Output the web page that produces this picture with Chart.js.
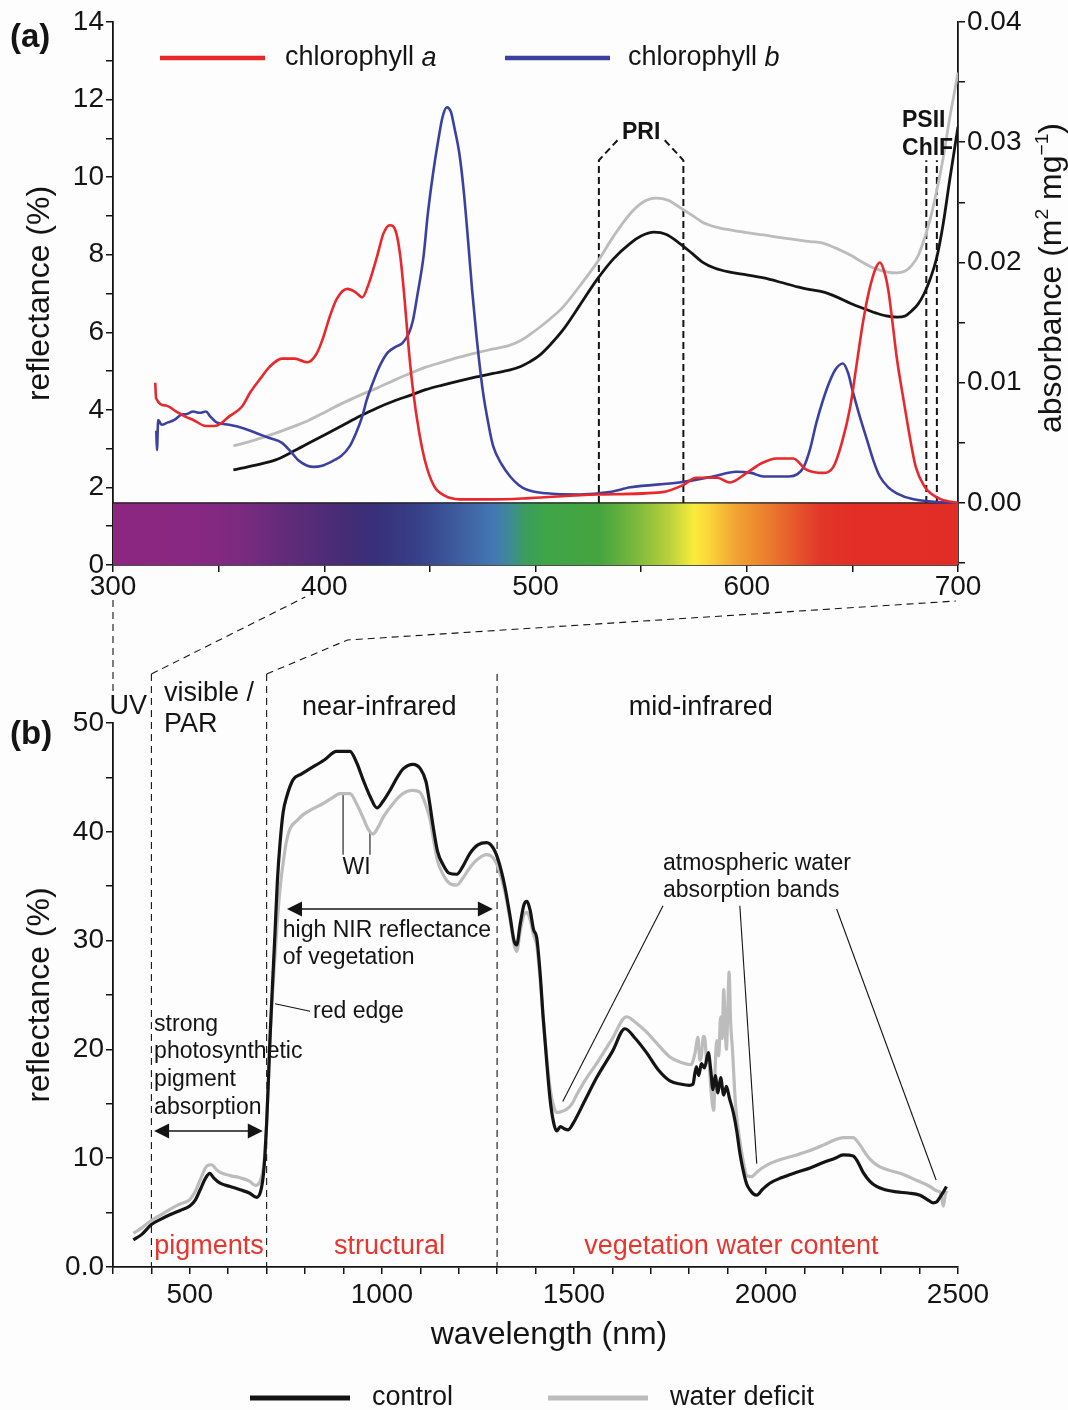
<!DOCTYPE html>
<html>
<head>
<meta charset="utf-8">
<script src="https://cdn.jsdelivr.net/npm/chart.js@4.4.1/dist/chart.umd.min.js"></script>
<style>
  html, body { margin: 0; padding: 0; background: #fdfdfd; }
  #wrap { position: relative; width: 1068px; height: 1410px; overflow: hidden; }
  #topChart { position: absolute; left: 0; top: 0; }
  #botChart { position: absolute; left: 0; top: 596px; }
</style>
</head>
<body>
<div id="wrap">
  <canvas id="topChart" width="1068" height="596"></canvas>
  <canvas id="botChart" width="1068" height="814"></canvas>
</div>
<script>
/* ─── data (a): absorbance of chlorophylls, reflectance 300–700 nm ─── */
const chlA = [[320,0.0100],[320.4,0.0087],[325,0.0081],[330,0.0076],[334,0.0072],[338,0.0069],[344,0.0064],[348,0.0064],[351,0.0066],[355,0.0072],[361,0.0080],[365,0.0092],[370,0.0104],[374,0.0113],[380,0.0120],[386,0.0120],[392,0.0117],[396,0.0123],[399,0.0135],[403,0.0157],[406,0.0170],[411,0.0178],[415,0.0175],[418,0.0171],[421,0.0182],[425,0.0205],[428,0.0224],[431,0.0231],[434,0.0225],[436,0.0205],[438,0.0170],[440,0.0128],[442,0.0094],[445,0.0058],[448,0.0033],[452,0.0014],[457,0.0006],[464,0.0003],[480,0.0003],[497,0.0004],[529,0.0007],[560,0.0009],[570,0.0015],[576,0.0021],[586,0.0021],[592,0.0017],[600,0.0025],[607,0.0033],[614,0.0037],[622,0.0037],[628,0.0028],[636,0.0025],[641,0.0030],[645,0.0050],[649,0.0080],[652,0.0115],[655,0.0150],[658,0.0177],[661,0.0195],[663,0.0200],[665,0.0193],[667,0.0177],[669,0.0150],[671,0.0121],[674,0.0088],[676,0.0067],[678,0.0047],[680,0.0030],[684,0.0014],[687,0.0008],[692,0.0003],[700,0.0000]];

const chlB = [[320.5,0.0060],[320.8,0.0044],[321.4,0.0069],[323,0.0065],[326,0.0067],[329,0.0069],[332,0.0073],[335,0.0074],[338,0.0076],[341,0.0075],[344,0.0076],[346,0.0072],[349,0.0067],[355,0.0065],[362,0.0062],[368,0.0058],[374,0.0054],[380,0.0050],[384,0.0043],[388,0.0035],[392,0.0031],[395,0.0030],[399,0.0031],[403,0.0034],[408,0.0039],[412,0.0047],[415,0.0058],[418,0.0072],[420,0.0085],[423,0.0100],[426,0.0113],[430,0.0125],[434,0.0130],[437,0.0133],[440,0.0141],[442,0.0152],[444,0.0172],[447,0.0205],[449,0.0240],[451.5,0.0274],[454,0.0302],[456,0.0321],[458,0.0329],[460,0.0325],[461.5,0.0313],[464,0.0290],[466,0.0260],[468,0.0220],[470,0.0177],[472,0.0140],[475,0.0094],[478,0.0063],[480,0.0047],[484,0.0032],[488,0.0022],[492,0.0015],[496,0.0011],[505,0.0008],[521,0.0007],[535,0.0009],[545,0.0013],[568,0.0017],[584,0.0022],[595,0.0026],[602,0.0025],[608,0.0022],[620,0.0022],[624,0.0024],[627,0.0030],[630,0.0045],[633,0.0067],[636,0.0085],[639,0.0100],[642,0.0111],[645.5,0.0116],[648,0.0108],[650,0.0094],[653,0.0075],[657,0.0052],[660,0.0035],[663,0.0022],[667,0.0013],[671,0.0008],[679,0.0003],[700,0.0000]];

const ctrlVis = [[357,2.45],[367,2.57],[377,2.71],[385,2.92],[393,3.15],[401,3.38],[409,3.61],[417,3.84],[425,4.05],[433,4.23],[441,4.38],[448,4.52],[456,4.64],[464,4.75],[472,4.85],[480,4.94],[488,5.03],[493,5.12],[497,5.23],[502,5.41],[507,5.68],[513,6.06],[521,6.70],[529,7.35],[537,7.90],[545,8.30],[550,8.48],[556,8.58],[562,8.52],[568,8.30],[574,8.04],[579,7.81],[585,7.65],[592,7.55],[600,7.48],[608,7.40],[616,7.29],[624,7.17],[630,7.10],[636,7.04],[643,6.90],[649,6.75],[655,6.62],[661,6.50],[666,6.42],[671,6.39],[675,6.42],[678,6.55],[681,6.72],[684,7.00],[687,7.40],[690,7.94],[693,8.80],[696,9.90],[698,10.6],[700,11.3]];

const wdVis = [[357,3.07],[367,3.22],[377,3.40],[385,3.56],[393,3.74],[401,3.96],[409,4.18],[417,4.38],[425,4.56],[433,4.76],[441,4.95],[448,5.10],[456,5.23],[464,5.36],[472,5.47],[480,5.57],[488,5.67],[493,5.79],[497,5.93],[502,6.13],[507,6.35],[513,6.65],[521,7.20],[529,7.79],[537,8.48],[545,9.07],[551,9.36],[557,9.46],[563,9.40],[568,9.23],[574,9.02],[579,8.84],[585,8.72],[592,8.64],[600,8.57],[608,8.51],[616,8.44],[624,8.38],[630,8.34],[636,8.30],[643,8.15],[649,7.99],[655,7.80],[660,7.66],[666,7.56],[671,7.53],[675,7.58],[678,7.72],[681,7.96],[684,8.40],[687,8.95],[690,9.67],[693,10.5],[696,11.5],[698,12.1],[700,12.7]];

/* ─── data (b): reflectance 350–2500 nm ─── */
const ctrlFull = [[353,2.5],[375,3.0],[400,3.9],[425,4.4],[448,4.8],[475,5.2],[500,5.6],[515,6.2],[527,7.1],[540,8.1],[552,8.6],[562,8.2],[579,7.7],[605,7.4],[631,7.1],[655,6.8],[674,6.4],[684,6.9],[691,8.3],[696,10.5],[700,13.2],[705,17.5],[709,21.2],[716,26.5],[722,30.9],[728,35.5],[735,39.0],[743,41.8],[752,43.2],[769,44.8],[790,45.3],[813,45.8],[850,46.6],[882,47.4],[917,47.4],[935,46.3],[951,44.8],[970,43.2],[987,42.2],[1003,42.8],[1021,43.8],[1040,45.0],[1056,45.8],[1081,46.2],[1100,45.8],[1115,44.6],[1125,42.5],[1133,40.6],[1145,38.2],[1159,37.0],[1175,36.2],[1195,36.1],[1212,36.9],[1229,38.0],[1250,38.8],[1273,39.0],[1290,38.5],[1303,37.4],[1320,35.0],[1334,32.2],[1344,30.0],[1351,29.6],[1360,31.5],[1370,33.3],[1378,33.6],[1386,32.8],[1395,31.0],[1403,30.3],[1412,27.0],[1420,22.9],[1430,18.5],[1438,15.4],[1447,13.3],[1455,12.5],[1465,12.9],[1475,12.7],[1485,12.6],[1498,13.2],[1530,15.4],[1559,17.4],[1600,19.8],[1633,21.9],[1660,21.0],[1689,19.7],[1720,18.1],[1750,17.1],[1780,16.8],[1800,16.7],[1810,16.8],[1815,17.8],[1819,18.4],[1825,17.6],[1832,18.7],[1840,18.3],[1850,19.7],[1856,18.2],[1862,16.3],[1868,17.6],[1875,16.0],[1882,17.4],[1890,15.8],[1897,16.6],[1905,15.5],[1915,14.2],[1924,12.5],[1932,10.5],[1940,9.0],[1950,7.6],[1958,7.1],[1968,6.7],[1976,6.6],[1990,7.1],[2010,7.7],[2040,8.2],[2080,8.7],[2115,9.1],[2149,9.6],[2180,10.0],[2201,10.3],[2227,10.2],[2240,9.6],[2253,8.7],[2270,7.9],[2288,7.4],[2310,7.1],[2340,6.9],[2370,6.8],[2401,6.6],[2420,6.2],[2435,5.9],[2445,6.0],[2453,6.4],[2462,6.9],[2470,7.4]];

const wdFull = [[353,3.1],[375,3.6],[400,4.3],[425,4.8],[448,5.3],[475,5.8],[500,6.2],[515,7.0],[527,8.0],[545,9.3],[557,9.4],[568,9.0],[579,8.7],[605,8.4],[631,8.2],[655,7.9],[671,7.5],[682,7.8],[691,9.0],[696,10.8],[700,13.2],[705,17.5],[709,21.2],[717,26.0],[726,30.9],[735,34.8],[744,37.4],[752,39.2],[761,40.3],[778,41.0],[796,41.6],[820,42.1],[847,42.6],[870,43.1],[891,43.5],[917,43.5],[935,42.5],[951,41.3],[965,40.2],[977,39.8],[990,40.4],[1003,41.3],[1025,42.4],[1047,43.3],[1065,43.7],[1081,43.8],[1100,43.6],[1115,42.4],[1125,41.2],[1133,39.6],[1145,37.3],[1159,36.1],[1175,35.3],[1195,35.1],[1212,35.8],[1229,36.7],[1250,37.5],[1273,37.9],[1290,37.6],[1303,36.7],[1320,34.5],[1334,31.9],[1344,29.7],[1351,29.0],[1360,30.8],[1370,32.4],[1378,32.6],[1386,31.9],[1395,30.5],[1403,29.6],[1412,26.5],[1420,22.9],[1430,19.0],[1438,16.4],[1447,14.8],[1455,14.2],[1468,14.3],[1481,14.5],[1495,15.0],[1507,15.8],[1530,17.2],[1559,18.7],[1600,21.0],[1637,23.0],[1660,22.5],[1689,21.6],[1720,20.4],[1750,19.3],[1780,18.8],[1805,18.6],[1815,19.6],[1823,21.1],[1828,19.0],[1832,19.4],[1837,21.2],[1841,21.0],[1846,18.8],[1850,19.3],[1857,16.2],[1864,14.4],[1868,18.5],[1872,20.8],[1877,19.4],[1882,23.0],[1886,21.0],[1890,25.5],[1894,22.0],[1897,20.0],[1901,24.0],[1904,27.1],[1908,22.5],[1913,19.9],[1918,16.5],[1922,14.4],[1932,11.6],[1942,9.5],[1950,8.4],[1962,8.3],[1976,8.7],[1990,9.1],[2010,9.5],[2040,9.9],[2080,10.3],[2115,10.7],[2149,11.2],[2180,11.7],[2201,11.9],[2227,11.9],[2245,11.2],[2262,10.3],[2280,9.6],[2297,9.2],[2330,8.8],[2358,8.5],[2390,8.0],[2427,7.4],[2445,7.0],[2453,6.9],[2458,6.2],[2462,5.6],[2466,6.5],[2470,7.0]];

/* ─── tick lists ─── */
const topXTicks  = [300,350,400,450,500,550,600,650,700];
const topYTicks  = [0,1,2,3,4,5,6,7,8,9,10,11,12,13,14];
const absTicks   = [-0.005,0,0.005,0.01,0.015,0.02,0.025,0.03,0.035,0.04];
const botXTicks  = [300,400,500,600,700,800,900,1000,1100,1200,1300,1400,1500,1600,1700,1800,1900,2000,2100,2200,2300,2400,2500];
const botYTicks  = [0,5,10,15,20,25,30,35,40,45,50];

/* ─── styles ─── */
const FONT  = "'Liberation Sans', Arial, Helvetica, sans-serif";
const INK   = '#141414';
const RED   = '#e8282b';
const BLUE  = '#3c40a0';
const GREY  = '#bcbcbc';
const LABEL_RED = '#e8352e';
const BAR_TOP = 1.6;   // reflectance units covered by the spectrum strip

const SPECTRUM = [[300,'#8d2680'],[340,'#872882'],[360,'#7c2a80'],[385,'#5f2b79'],[410,'#452c75'],[425,'#38307a'],[445,'#374189'],[465,'#3f5fa0'],[480,'#4377b4'],[488,'#3f8a97'],[495,'#3b9c5e'],[505,'#3ea548'],[530,'#45a43f'],[548,'#7cb93d'],[563,'#b8d03b'],[575,'#f9ec3c'],[582,'#fbd53a'],[595,'#f1a333'],[610,'#eb7d2e'],[625,'#e5512b'],[635,'#e23629'],[650,'#e22e27'],[700,'#e22d27']];

const pts = arr => arr.map(([x, y]) => ({ x, y }));
const setTicks = vals => scale => { scale.ticks = vals.map(v => ({ value: v })); };

function line(label, arr, color, axis, width) {
  return {
    label, data: pts(arr), yAxisID: axis,
    borderColor: color, backgroundColor: color, borderWidth: width,
    pointRadius: 0, cubicInterpolationMode: 'monotone', fill: false,
  };
}

function axis(extra, tickOpts) {
  return Object.assign({
    grid:   { drawOnChartArea: false, drawTicks: true, tickLength: 7, color: INK, lineWidth: 1.5 },
    border: { display: true, color: INK, width: 1.8 },
    ticks:  Object.assign({ color: INK, font: { family: FONT, size: 28 }, padding: 2,
                            autoSkip: false, maxRotation: 0, minRotation: 0 }, tickOpts),
  }, extra);
}

/* ─── text helpers ─── */
function txt(ctx, s, x, y, size, opts = {}) {
  ctx.save();
  ctx.font = `${opts.style || ''} ${opts.weight || 'normal'} ${size}px ${FONT}`;
  ctx.fillStyle = opts.color || INK;
  ctx.textAlign = opts.align || 'left';
  ctx.textBaseline = 'middle';
  ctx.fillText(s, x, y);
  ctx.restore();
}

// runs: [{t, sup, italic}] drawn on one baseline, centred at (cx, cy), optional -90° rotation
function runs(ctx, parts, cx, cy, size, rotate) {
  ctx.save();
  ctx.translate(cx, cy);
  if (rotate) ctx.rotate(-Math.PI / 2);
  ctx.fillStyle = INK;
  ctx.textBaseline = 'alphabetic';
  const fontOf = p => `${p.italic ? 'italic ' : ''}${p.sup ? size * 0.6 : size}px ${FONT}`;
  let total = 0;
  parts.forEach(p => { ctx.font = fontOf(p); total += ctx.measureText(p.t).width; });
  let x = -total / 2;
  parts.forEach(p => {
    ctx.font = fontOf(p);
    ctx.fillText(p.t, x, size * 0.35 + (p.sup ? -size * 0.42 : 0));
    x += ctx.measureText(p.t).width;
  });
  ctx.restore();
}

function seg(ctx, pts, dash, width) {
  ctx.save();
  ctx.strokeStyle = INK;
  ctx.lineWidth = width || 1.5;
  ctx.setLineDash(dash || []);
  ctx.beginPath();
  pts.forEach(([x, y], i) => i ? ctx.lineTo(x, y) : ctx.moveTo(x, y));
  ctx.stroke();
  ctx.restore();
}

function arrow(ctx, x0, x1, y) {
  seg(ctx, [[x0 + 10, y], [x1 - 10, y]], [], 1.6);
  ctx.save();
  ctx.fillStyle = INK;
  ctx.beginPath();
  ctx.moveTo(x0, y); ctx.lineTo(x0 + 15, y - 7.5); ctx.lineTo(x0 + 15, y + 7.5); ctx.closePath();
  ctx.moveTo(x1, y); ctx.lineTo(x1 - 15, y - 7.5); ctx.lineTo(x1 - 15, y + 7.5); ctx.closePath();
  ctx.fill();
  ctx.restore();
}

/* ─── (a) plugins ─── */
const topDecor = {
  id: 'topDecor',
  beforeDatasetsDraw(chart) {
    const { ctx, scales: { x, y, y2 } } = chart;
    const x0 = x.getPixelForValue(300), x1 = x.getPixelForValue(700);
    const yb = y.getPixelForValue(0), yt = y2.getPixelForValue(0);
    const g = ctx.createLinearGradient(x0, 0, x1, 0);
    SPECTRUM.forEach(([nm, c]) => g.addColorStop((nm - 300) / 400, c));
    ctx.save();
    ctx.fillStyle = g;
    ctx.fillRect(x0, yt, x1 - x0, yb - yt);
    ctx.restore();
    seg(ctx, [[x0, yt], [x1, yt]], [], 1.2);

    // PRI bracket
    const dash = [7, 4];
    const yLow = y2.getPixelForValue(0.0285), yHigh = y2.getPixelForValue(0.0302);
    seg(ctx, [[x.getPixelForValue(530), yt], [x.getPixelForValue(530), yLow], [x.getPixelForValue(539), yHigh]], dash, 2);
    seg(ctx, [[x.getPixelForValue(570), yt], [x.getPixelForValue(570), yLow], [x.getPixelForValue(561), yHigh]], dash, 2);
    // PSII ChlF lines
    seg(ctx, [[x.getPixelForValue(685), yt], [x.getPixelForValue(685), yLow]], dash, 2);
    seg(ctx, [[x.getPixelForValue(690), yt], [x.getPixelForValue(690), yLow]], dash, 2);
  },
  afterDraw(chart) {
    const { ctx, chartArea: a, scales: { x, y2 } } = chart;
    txt(ctx, 'PRI', x.getPixelForValue(550), y2.getPixelForValue(0.0308), 23, { weight: 'bold', align: 'center' });
    txt(ctx, 'PSII', x.getPixelForValue(673.5), y2.getPixelForValue(0.0318), 23, { weight: 'bold' });
    txt(ctx, 'ChlF', x.getPixelForValue(673.5), y2.getPixelForValue(0.0295), 23, { weight: 'bold' });

    txt(ctx, '(a)', 10, 38, 33, { weight: 'bold' });

    // legend
    const ly = 58;
    ctx.save(); ctx.lineWidth = 4.5;
    ctx.strokeStyle = RED; ctx.beginPath();
    ctx.moveTo(a.left + 47, ly); ctx.lineTo(a.left + 152, ly); ctx.stroke();
    ctx.strokeStyle = BLUE; ctx.beginPath();
    ctx.moveTo(a.left + 392, ly); ctx.lineTo(a.left + 497, ly); ctx.stroke(); ctx.restore();
    ctx.save(); ctx.font = `27px ${FONT}`;
    const w = ctx.measureText('chlorophyll ').width; ctx.restore();
    txt(ctx, 'chlorophyll ', a.left + 172, ly, 27);
    txt(ctx, 'a', a.left + 172 + w, ly, 27, { style: 'italic' });
    txt(ctx, 'chlorophyll ', a.left + 515, ly, 27);
    txt(ctx, 'b', a.left + 515 + w, ly, 27, { style: 'italic' });

    // axis titles
    runs(ctx, [{ t: 'reflectance (%)' }], 38, (a.top + a.bottom) / 2, 32, true);
    runs(ctx, [{ t: 'absorbance (m' }, { t: '2', sup: true }, { t: ' mg' }, { t: '\u22121', sup: true }, { t: ')' }],
         1050, 278, 32, true);
  },
};

const topChart = new Chart(document.getElementById('topChart'), {
  type: 'line',
  data: {
    datasets: [
      line('chlorophyll a', chlA, RED, 'y2', 2.6),
      line('chlorophyll b', chlB, BLUE, 'y2', 2.6),
      line('control', ctrlVis, INK, 'y', 2.8),
      line('water deficit', wdVis, GREY, 'y', 2.8),
    ],
  },
  options: {
    responsive: false, animation: false,
    layout: { padding: { top: 22, left: 0, right: 0, bottom: 0 } },
    plugins: { legend: { display: false }, tooltip: { enabled: false } },
    scales: {
      x: axis({ type: 'linear', min: 300, max: 700, afterBuildTicks: setTicks(topXTicks),
                afterFit: s => { s.height = 31; } },
              { padding: -2, callback: v => (v % 100 === 0 ? v : '') }),
      y: axis({ position: 'left', min: 0, max: 14, afterBuildTicks: setTicks(topYTicks),
                afterFit: s => { s.width = 113; } },
              { callback: v => (v % 2 === 0 ? v : '') }),
      y2: axis({ position: 'right', min: -0.04 * BAR_TOP / (14 - BAR_TOP), max: 0.04,
                 afterBuildTicks: setTicks(absTicks), afterFit: s => { s.width = 110; } },
               { callback: v => (v >= 0 && Math.round(v * 1000) % 10 === 0 ? v.toFixed(2) : '') }),
    },
  },
  plugins: [topDecor],
});

/* ─── (b) plugin ─── */
const botDecor = {
  id: 'botDecor',
  beforeDatasetsDraw(chart) {
    const { ctx, chartArea: a, scales: { x, y } } = chart;
    const X = v => x.getPixelForValue(v), Y = v => y.getPixelForValue(v);
    const TX = v => topChart.scales.x.getPixelForValue(v);
    const d = [7, 5];
    const top = a.top - 49;

    [400, 700, 1300].forEach(nm => seg(ctx, [[X(nm), top], [X(nm), a.bottom]], d, 1.1));
    seg(ctx, [[X(300), 4], [X(300), a.top - 26]], d, 1.1);
    seg(ctx, [[X(400), top], [TX(391), 1]], d, 1.1);
    seg(ctx, [[X(700), top], [TX(411), a.top - 83], [TX(699), 5]], d, 1.1);

    // WI
    seg(ctx, [[X(899), Y(43.4)], [X(899), Y(37.9)]], [], 1.1);
    seg(ctx, [[X(969), Y(39.9)], [X(969), Y(37.9)]], [], 1.1);
    // red edge pointer
    seg(ctx, [[X(722), Y(24.2)], [X(813), Y(23.5)]], [], 1.1);
    // atmospheric water bands pointers
    seg(ctx, [[X(1732), Y(33.2)], [X(1471), Y(15.2)]], [], 1.1);
    seg(ctx, [[X(1932), Y(33.2)], [X(1976), Y(9.5)]], [], 1.1);
    seg(ctx, [[X(2184), Y(32.9)], [X(2443), Y(8.0)]], [], 1.1);

    arrow(ctx, X(753), X(1289), Y(32.9));
    arrow(ctx, X(407), X(690), Y(12.5));
  },
  afterDraw(chart) {
    const { ctx, chartArea: a, scales: { x, y } } = chart;
    const X = v => x.getPixelForValue(v), Y = v => y.getPixelForValue(v);

    txt(ctx, '(b)', 10, a.top + 12, 33, { weight: 'bold' });
    txt(ctx, 'UV', X(340), a.top - 16, 27, { align: 'center' });
    txt(ctx, 'visible /', X(433), a.top - 29, 27);
    txt(ctx, 'PAR', X(433), a.top + 2, 27);
    txt(ctx, 'near-infrared', X(993), a.top - 15, 27, { align: 'center' });
    txt(ctx, 'mid-infrared', X(1830), a.top - 15, 27, { align: 'center' });

    txt(ctx, 'WI', X(934), Y(36.7), 23, { align: 'center' });
    txt(ctx, 'high NIR reflectance', X(742), Y(30.9), 23);
    txt(ctx, 'of vegetation', X(742), Y(28.4), 23);
    txt(ctx, 'red edge', X(821), Y(23.5), 23);
    ['strong', 'photosynthetic', 'pigment', 'absorption'].forEach((s, i) =>
      txt(ctx, s, X(407), Y([22.3, 19.8, 17.2, 14.6][i]), 23));
    txt(ctx, 'atmospheric water', X(1732), Y(37.1), 23);
    txt(ctx, 'absorption bands', X(1732), Y(34.6), 23);

    txt(ctx, 'pigments', X(550), Y(1.9), 27, { align: 'center', color: LABEL_RED });
    txt(ctx, 'structural', X(1020), Y(1.9), 27, { align: 'center', color: LABEL_RED });
    txt(ctx, 'vegetation water content', X(1910), Y(1.9), 27, { align: 'center', color: LABEL_RED });

    runs(ctx, [{ t: 'reflectance (%)' }], 38, (a.top + a.bottom) / 2, 32, true);
    runs(ctx, [{ t: 'wavelength (nm)' }], 549, a.bottom + 66, 32, false);

    // legend
    const ly = a.bottom + 131;
    ctx.save();
    ctx.lineWidth = 5;
    ctx.strokeStyle = INK; ctx.beginPath(); ctx.moveTo(250, ly); ctx.lineTo(350, ly); ctx.stroke();
    ctx.strokeStyle = GREY; ctx.beginPath(); ctx.moveTo(548, ly); ctx.lineTo(648, ly); ctx.stroke();
    ctx.restore();
    txt(ctx, 'control', 372, ly, 27);
    txt(ctx, 'water deficit', 670, ly, 27);
  },
};

new Chart(document.getElementById('botChart'), {
  type: 'line',
  data: {
    datasets: [
      line('control', ctrlFull, INK, 'y', 3.2),
      line('water deficit', wdFull, GREY, 'y', 3.2),
    ],
  },
  options: {
    responsive: false, animation: false,
    layout: { padding: { top: 127, left: 0, right: 110, bottom: 0 } },
    plugins: { legend: { display: false }, tooltip: { enabled: false } },
    scales: {
      x: axis({ type: 'linear', min: 300, max: 2500, afterBuildTicks: setTicks(botXTicks),
                afterFit: s => { s.height = 143; } },
              { padding: 4, callback: v => (v % 500 === 0 ? v : '') }),
      y: axis({ position: 'left', min: 0, max: 50, afterBuildTicks: setTicks(botYTicks),
                afterFit: s => { s.width = 113; } },
              { callback: v => (v === 0 ? '0.0' : v % 10 === 0 ? v : '') }),
    },
  },
  plugins: [botDecor],
});
</script>
</body>
</html>
